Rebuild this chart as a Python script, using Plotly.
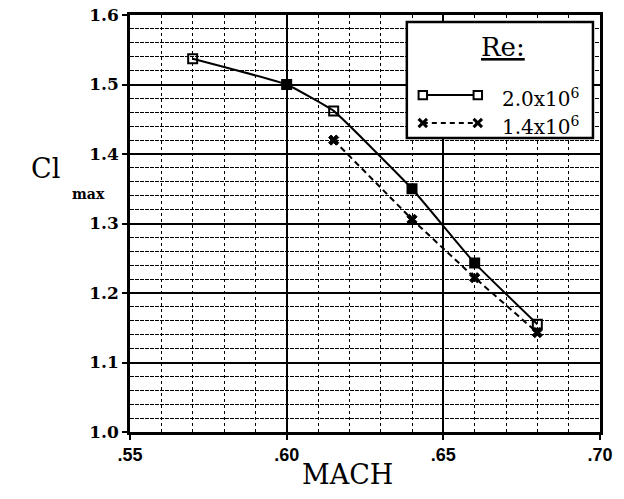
import plotly.graph_objects as go

# ---- data ----
mach_20 = [0.57, 0.60, 0.615, 0.64, 0.66, 0.68]
clmax_20 = [1.537, 1.500, 1.462, 1.350, 1.243, 1.155]
mach_14 = [0.615, 0.64, 0.66, 0.68]
clmax_14 = [1.420, 1.306, 1.222, 1.143]

x_tickvals = [0.55, 0.60, 0.65, 0.70]
x_ticktext = [".55", ".60", ".65", ".70"]
y_tickvals = [1.0, 1.1, 1.2, 1.3, 1.4, 1.5, 1.6]
y_ticktext = ["1.0", "1.1", "1.2", "1.3", "1.4", "1.5", "1.6"]

legend_labels = ["2.0x10<sup>6</sup>", "1.4x10<sup>6</sup>"]
legend_title = "Re:"

fig = go.Figure()

sym20 = ["square-open", "square", "square-open", "square", "square", "square-open"]
fig.add_trace(go.Scatter(
    x=mach_20, y=clmax_20, mode="lines+markers",
    line=dict(color="black", width=2, shape="spline", smoothing=0.3),
    marker=dict(symbol=sym20, size=9, color="black", line=dict(color="black", width=2)),
    showlegend=False, cliponaxis=False))
fig.add_trace(go.Scatter(
    x=mach_14, y=clmax_14, mode="lines+markers",
    line=dict(color="black", width=2, dash="6px,4px"),
    marker=dict(symbol="x", size=9, color="black", line=dict(color="black", width=1)),
    showlegend=False, cliponaxis=False))

# legend box
fig.add_shape(type="rect", xref="paper", yref="paper",
              x0=0.589, x1=0.985, y0=0.705, y1=0.983,
              fillcolor="white", line=dict(color="black", width=2.5), layer="above")

# legend glyphs (paper units)
lx0, lx1 = 0.623, 0.740
ry = [0.808, 0.741]
hw, hh = 0.009, 0.010
fig.add_shape(type="line", xref="paper", yref="paper", x0=lx0, x1=lx1, y0=ry[0], y1=ry[0],
              line=dict(color="black", width=2), layer="above")
fig.add_shape(type="line", xref="paper", yref="paper", x0=lx0, x1=lx1, y0=ry[1], y1=ry[1],
              line=dict(color="black", width=2, dash="5px,4px"), layer="above")
for cx in (lx0, lx1):
    fig.add_shape(type="rect", xref="paper", yref="paper",
                  x0=cx - hw, x1=cx + hw, y0=ry[0] - hh, y1=ry[0] + hh,
                  fillcolor="white", line=dict(color="black", width=2), layer="above")
    fig.add_shape(type="line", xref="paper", yref="paper",
                  x0=cx - hw, x1=cx + hw, y0=ry[1] - hh, y1=ry[1] + hh,
                  line=dict(color="black", width=3), layer="above")
    fig.add_shape(type="line", xref="paper", yref="paper",
                  x0=cx - hw, x1=cx + hw, y0=ry[1] + hh, y1=ry[1] - hh,
                  line=dict(color="black", width=3), layer="above")

fig.add_annotation(xref="paper", yref="paper", x=0.845, y=0.965, yanchor="top",
                   text="<u>" + legend_title + "</u>", showarrow=False,
                   font=dict(family="DejaVu Serif", size=26, color="black"))
for lab, yy in zip(legend_labels, ry):
    fig.add_annotation(xref="paper", yref="paper", x=0.787, y=yy + 0.028, xanchor="left",
                       text=lab, showarrow=False,
                       font=dict(family="DejaVu Serif", size=20, color="black"))

# axis titles
fig.add_annotation(xref="paper", yref="paper", x=-0.215, y=0.633, text="Cl",
                   showarrow=False, font=dict(family="DejaVu Serif", size=27, color="black"))
fig.add_annotation(xref="paper", yref="paper", x=-0.128, y=0.571, text="<b>max</b>",
                   showarrow=False, font=dict(family="DejaVu Serif", size=14, color="black"))
fig.add_annotation(xref="paper", yref="paper", x=0.462, y=-0.145, text="MACH",
                   showarrow=False, font=dict(family="DejaVu Serif", size=27, color="black"))

fig.update_layout(
    width=624, height=499,
    margin=dict(l=130, r=24, t=15, b=67, autoexpand=False),
    paper_bgcolor="white", plot_bgcolor="white",
    xaxis=dict(range=[0.55, 0.70], tickmode="array", tickvals=x_tickvals, ticktext=x_ticktext,
               showgrid=True, gridcolor="black", gridwidth=1.5, automargin=False,
               showline=True, linecolor="black", linewidth=2.5, mirror=True,
               ticks="outside", ticklen=5, tickcolor="black", tickwidth=2,
               tickfont=dict(family="Liberation Sans", size=18, color="black", weight="bold"),
               minor=dict(tickmode="linear", tick0=0.55, dtick=0.01, showgrid=True,
                          gridcolor="black", gridwidth=1.2, griddash="dot"),
               zeroline=False),
    yaxis=dict(range=[1.0, 1.6], tickmode="array", tickvals=y_tickvals, ticktext=y_ticktext,
               showgrid=True, gridcolor="black", gridwidth=1.5, automargin=False,
               showline=True, linecolor="black", linewidth=2.5, mirror=True,
               ticks="outside", ticklen=5, tickcolor="black", tickwidth=2,
               tickfont=dict(family="DejaVu Serif", size=17, color="black", weight="bold"),
               minor=dict(tickmode="linear", tick0=1.0, dtick=0.02, showgrid=True,
                          gridcolor="black", gridwidth=1.2, griddash="4px,1px"),
               zeroline=False),
)

fig.write_html("out.html", post_script="document.body.style.margin='0';",
               config={"displayModeBar": False})
